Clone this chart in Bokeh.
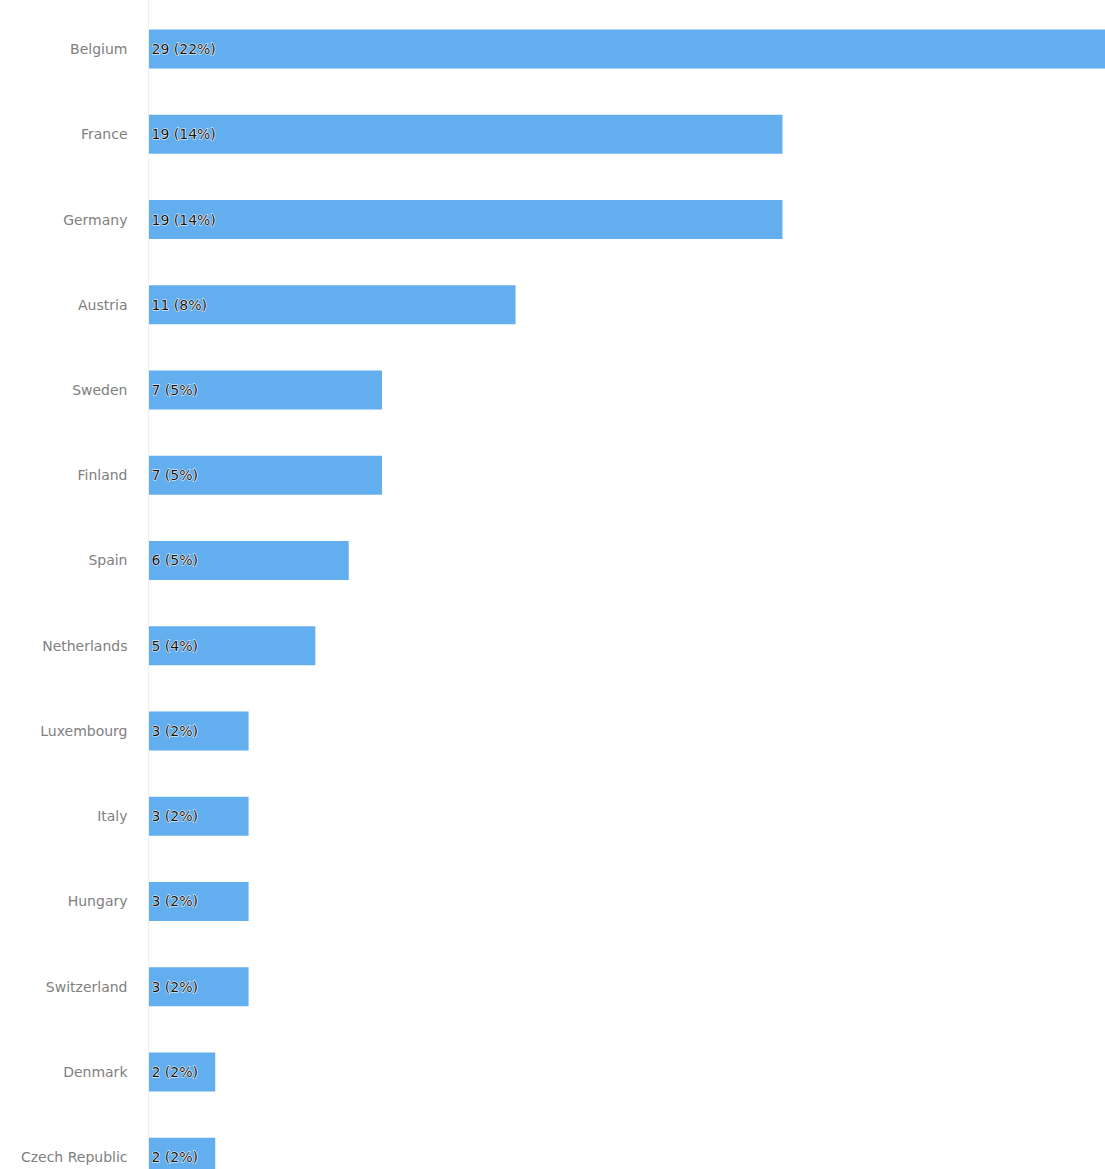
from bokeh.plotting import figure
from bokeh.models import ColumnDataSource, Range1d, FixedTicker
from bokeh.core.properties import value
from bokeh.embed import file_html
from bokeh.resources import INLINE

countries = ["Belgium", "France", "Germany", "Austria", "Sweden", "Finland", "Spain",
             "Netherlands", "Luxembourg", "Italy", "Hungary", "Switzerland", "Denmark",
             "Czech Republic"]
counts = [29, 19, 19, 11, 7, 7, 6, 5, 3, 3, 3, 3, 2, 2]
shares = [22, 14, 14, 8, 5, 5, 5, 4, 2, 2, 2, 2, 2, 2]

pos = list(range(len(countries)))
labels = [f"{c} ({s}%)" for c, s in zip(counts, shares)]
src = ColumnDataSource(dict(y=pos, v=counts, lab=labels, x0=[0] * len(pos)))

p = figure(width=1105, height=1169, output_backend="svg", toolbar_location=None,
           x_range=Range1d(0, 28.68), y_range=Range1d(13.144, -0.569),
           min_border_left=148, min_border_right=0, min_border_top=0, min_border_bottom=0)

p.hbar(y="y", left=0, right="v", height=0.457, source=src,
       fill_color="#63aeef", line_color=None)
# halo
p.text(x="x0", y="y", text="lab", source=src, x_offset=3,
       text_align="left", text_baseline="middle",
       text_font=value("DejaVu Sans"), text_font_size="14px", text_color="white",
       text_outline_color="white")
p.text(x="x0", y="y", text="lab", source=src, x_offset=3,
       text_align="left", text_baseline="middle",
       text_font=value("DejaVu Sans"), text_font_size="14px", text_color="#111111")

p.xaxis.visible = False
p.xgrid.visible = False
p.ygrid.visible = False
p.outline_line_color = None

ya = p.yaxis[0]
ya.ticker = FixedTicker(ticks=pos)
ya.major_label_overrides = {i: c for i, c in enumerate(countries)}
ya.major_tick_line_color = None
ya.minor_tick_line_color = None
ya.axis_line_color = "#eeeeee"
ya.major_label_standoff = 15
ya.major_label_text_font = "DejaVu Sans"
ya.major_label_text_font_size = "14px"
ya.major_label_text_color = "#808080"

open("out.html", "w").write(file_html(p, INLINE))
